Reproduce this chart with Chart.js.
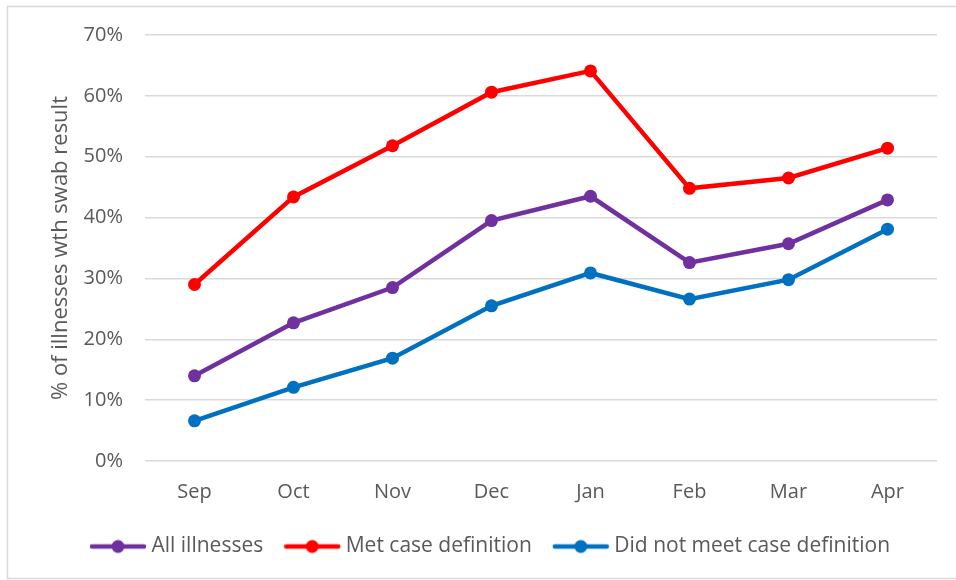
<!DOCTYPE html>
<html><head><meta charset="utf-8">
<script src="https://cdn.jsdelivr.net/npm/chart.js@4"></script>
<style>html,body{margin:0;padding:0;background:#fff}#wrap{width:956px;height:580px;position:relative}</style>
</head><body><div id="wrap"><canvas id="c"></canvas></div>
<script>
const categories = ['Sep','Oct','Nov','Dec','Jan','Feb','Mar','Apr'];
const allIllnesses = [14.0, 22.7, 28.5, 39.5, 43.5, 32.6, 35.7, 42.9];
const metCase = [29.0, 43.4, 51.8, 60.6, 64.1, 44.8, 46.5, 51.4];
const notMet = [6.6, 12.1, 16.9, 25.5, 30.9, 26.6, 29.8, 38.1];
const seriesNames = ['All illnesses', 'Met case definition', 'Did not meet case definition'];
const seriesColors = ['#7030A0', '#FF0000', '#0070C0'];
const yTickValues = [0, 10, 20, 30, 40, 50, 60, 70];
const yTitle = '% of illnesses wth swab result';

const FONT = 'Open Sans';
const TXT = '#595959';

function legendIcon(color){
  const c = document.createElement('canvas');
  c.width = 58; c.height = 16;
  const g = c.getContext('2d');
  g.strokeStyle = color; g.lineWidth = 4.5; g.lineCap = 'round';
  g.beginPath(); g.moveTo(3, 8); g.lineTo(55, 8); g.stroke();
  g.fillStyle = color; g.beginPath(); g.arc(29, 8, 6.5, 0, Math.PI*2); g.fill();
  return c;
}
const icons = seriesColors.map(legendIcon);

const frame = {
  id: 'frame',
  beforeDraw(chart){
    const ctx = chart.ctx;
    ctx.save();
    ctx.strokeStyle = '#d9d9d9'; ctx.lineWidth = 1.5;
    ctx.strokeRect(7.5, 6.5, 1000, 572);
    ctx.restore();
  }
};

const data = [allIllnesses, metCase, notMet];
new Chart(document.getElementById('c'), {
  type: 'line',
  data: {
    labels: categories,
    datasets: data.map((d, i) => ({
      label: seriesNames[i],
      data: d,
      borderColor: seriesColors[i],
      backgroundColor: seriesColors[i],
      borderWidth: 4.5,
      pointRadius: 6.5,
      pointHoverRadius: 6.5,
      pointBorderWidth: 0,
      pointStyle: 'circle',
      tension: 0,
      fill: false
    }))
  },
  options: {
    responsive: true,
    maintainAspectRatio: false,
    animation: false,
    layout: { padding: { left: 48, right: 19, top: 35, bottom: 13 } },
    plugins: {
      tooltip: { enabled: false },
      legend: {
        position: 'bottom',
        labels: {
          usePointStyle: true,
          pointStyleWidth: 46,
          padding: 26,
          color: TXT,
          font: { family: FONT, size: 21 },
          generateLabels(chart){
            const items = Chart.defaults.plugins.legend.labels.generateLabels(chart);
            items.forEach((it, i) => { it.pointStyle = icons[i]; });
            return items;
          }
        }
      }
    },
    scales: {
      x: {
        offset: true,
        grid: { display: false },
        border: { display: false },
        ticks: { color: TXT, font: { family: FONT, size: 20 }, padding: 11 },
        afterFit(s){ s.height = 49; }
      },
      y: {
        min: 0, max: 70,
        afterBuildTicks(s){ s.ticks = yTickValues.map(v => ({ value: v })); },
        grid: { color: '#d9d9d9', lineWidth: 1.5, drawTicks: false },
        border: { display: false },
        ticks: { color: TXT, font: { family: FONT, size: 20 }, padding: 22, callback: v => v + '%' },
        title: { display: true, text: yTitle, color: TXT, font: { family: FONT, size: 22 }, padding: { top: 0, bottom: 0 } },
        afterFit(s){ s.width = 97; }
      }
    }
  },
  plugins: [frame]
});
</script></body></html>
